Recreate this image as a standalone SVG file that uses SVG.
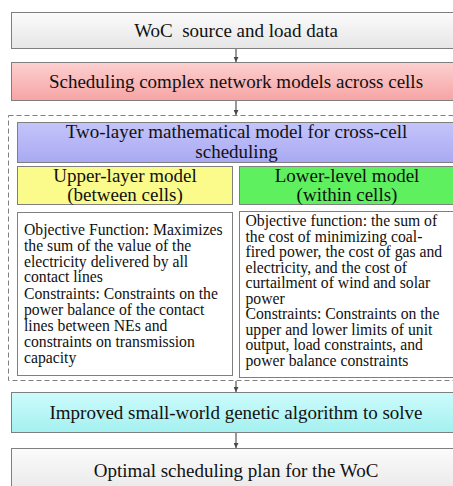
<svg xmlns="http://www.w3.org/2000/svg" width="453" height="486" viewBox="0 0 453 486" font-family="Liberation Serif, serif">
  <defs>
    <linearGradient id="gGray" x1="0" y1="0" x2="0" y2="1">
      <stop offset="0" stop-color="#fbfbfb"/>
      <stop offset="1" stop-color="#e6e6e6"/>
    </linearGradient>
    <linearGradient id="gPink" x1="0" y1="0" x2="0" y2="1">
      <stop offset="0" stop-color="#fdd0d0"/>
      <stop offset="1" stop-color="#f6a4a4"/>
    </linearGradient>
    <linearGradient id="gPurple" x1="0" y1="0" x2="0" y2="1">
      <stop offset="0" stop-color="#c4c4fb"/>
      <stop offset="1" stop-color="#a9a9f2"/>
    </linearGradient>
    <linearGradient id="gCyan" x1="0" y1="0" x2="0" y2="1">
      <stop offset="0" stop-color="#cdfbfb"/>
      <stop offset="1" stop-color="#a4f0f0"/>
    </linearGradient>
    <marker id="arrow" viewBox="0 0 10 10" refX="10" refY="5" markerWidth="5" markerHeight="5" orient="auto" markerUnits="userSpaceOnUse">
      <path d="M0,0 L10,5 L0,10 z" fill="#4a4a4a"/>
    </marker>
  </defs>
  <style>
    .box { stroke: #7f7f7f; stroke-width: 1; }
    .title { font-size: 19px; text-anchor: middle; fill: #111111; }
    .body { font-size: 15.7px; fill: #111111; }
    .conn { stroke: #555555; stroke-width: 1.2; fill: none; }
  </style>
  <rect width="453" height="486" fill="#ffffff"/>

  <g id="source-data">
    <rect class="box" x="11.5" y="12.5" width="449" height="36" fill="url(#gGray)"/>
    <text class="title" x="236" y="36.5" xml:space="preserve">WoC  source and load data</text>
  </g>

  <g id="network-models">
    <rect class="box" x="11.5" y="62.5" width="449" height="38" fill="url(#gPink)"/>
    <text class="title" x="236" y="88">Scheduling complex network models across cells</text>
  </g>

  <g id="two-layer-group">
    <rect x="8.5" y="115.5" width="452" height="265" fill="none" stroke="#808080" stroke-width="1" stroke-dasharray="5,3"/>
  </g>

  <g id="two-layer-model">
    <rect class="box" x="17.5" y="122.5" width="440" height="40" fill="url(#gPurple)"/>
    <text class="title" x="236.5" y="138">Two-layer mathematical model for cross-cell</text>
    <text class="title" x="236.5" y="157.5">scheduling</text>
  </g>

  <g id="upper-layer">
    <rect class="box" x="17.5" y="166.5" width="215" height="38" fill="#fbfb8c"/>
    <text class="title" x="125" y="182">Upper-layer model</text>
    <text class="title" x="125" y="201">(between cells)</text>
  </g>

  <g id="lower-level">
    <rect class="box" x="239.5" y="166.5" width="218" height="38" fill="#5ef05e"/>
    <text class="title" x="347" y="182">Lower-level model</text>
    <text class="title" x="347" y="201">(within cells)</text>
  </g>

  <g id="upper-detail">
    <rect class="box" x="17.5" y="212.5" width="215" height="163" fill="#ffffff"/>
    <text class="body">
      <tspan x="24" y="234.5">Objective Function: Maximizes</tspan>
      <tspan x="24" y="250.5">the sum of the value of the</tspan>
      <tspan x="24" y="266.5">electricity delivered by all</tspan>
      <tspan x="24" y="282">contact lines</tspan>
      <tspan x="24" y="299">Constraints: Constraints on the</tspan>
      <tspan x="24" y="315">power balance of the contact</tspan>
      <tspan x="24" y="331">lines between NEs and</tspan>
      <tspan x="24" y="347">constraints on transmission</tspan>
      <tspan x="24" y="363">capacity</tspan>
    </text>
  </g>

  <g id="lower-detail">
    <rect class="box" x="239.5" y="211.5" width="218" height="166" fill="#ffffff"/>
    <text class="body">
      <tspan x="245.5" y="226">Objective function: the sum of</tspan>
      <tspan x="245.5" y="241.5">the cost of minimizing coal-</tspan>
      <tspan x="245.5" y="257">fired power, the cost of gas and</tspan>
      <tspan x="245.5" y="272.5">electricity, and the cost of</tspan>
      <tspan x="245.5" y="288">curtailment of wind and solar</tspan>
      <tspan x="245.5" y="303.5">power</tspan>
      <tspan x="245.5" y="319">Constraints: Constraints on the</tspan>
      <tspan x="245.5" y="334.5">upper and lower limits of unit</tspan>
      <tspan x="245.5" y="350">output, load constraints, and</tspan>
      <tspan x="245.5" y="366">power balance constraints</tspan>
    </text>
  </g>

  <g id="genetic-algorithm">
    <rect class="box" x="11.5" y="392.5" width="449" height="40" fill="url(#gCyan)"/>
    <text class="title" x="236" y="418.5">Improved small-world genetic algorithm to solve</text>
  </g>

  <g id="optimal-plan">
    <rect class="box" x="11.5" y="448.5" width="449" height="50" fill="url(#gGray)"/>
    <text class="title" x="236" y="476.5">Optimal scheduling plan for the WoC</text>
  </g>

  <g id="connectors">
    <line class="conn" x1="236" y1="49" x2="236" y2="62" marker-end="url(#arrow)"/>
    <line class="conn" x1="236" y1="101" x2="236" y2="115" marker-end="url(#arrow)"/>
    <line class="conn" x1="236" y1="381" x2="236" y2="392" marker-end="url(#arrow)"/>
    <line class="conn" x1="236" y1="433" x2="236" y2="448" marker-end="url(#arrow)"/>
  </g>
</svg>
